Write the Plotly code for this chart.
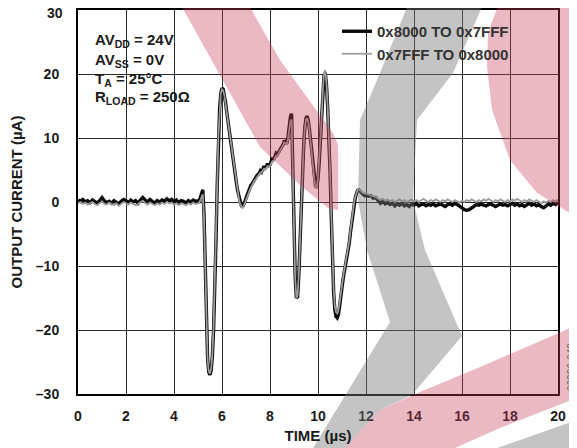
import plotly.graph_objects as go

# ---------------- data ----------------
# sampling instants (µs): 0.1 µs grid before/after the transient, 0.05 µs grid during it
TIME_PRE = [round(i * 0.1, 2) for i in range(50)]          # 0.0 .. 4.9
TIME_MID = [round(5 + i * 0.05, 2) for i in range(140)]    # 5.00 .. 11.95
TIME_POST = [round(12 + i * 0.1, 2) for i in range(81)]    # 12.0 .. 20.0
TIME_US = TIME_PRE + TIME_MID + TIME_POST

# 0x8000 TO 0x7FFF (black)
OUT_A_PRE = [0.3, 0.1, 0.4, 0.0, 0.2, -0.1, 0.3, 0.1, -0.2, 0.2,
             0.7, 0.2, -0.1, 0.1, -0.2, 0.2, 0.0, -0.3, 0.1, 0.4,
             0.2, -0.1, 0.3, 0.0, 0.2, -0.2, 0.3, 0.7, 0.3, 0.0,
             0.4, 0.1, -0.2, 0.2, 0.0, 0.3, 0.1, 0.5, 0.2, 0.4,
             0.0, 0.3, -0.1, 0.2, 0.1, -0.2, 0.2, 0.0, 0.3, 0.1]
OUT_A_MID = [0.2, 0.1, 0.6, 1.4, 1.9, -2.0, -11.0, -19.5, -24.5, -26.6,
             -27.0, -26.3, -24.0, -19.8, -14.0, -6.0, 2.5, 10.0, 14.5, 17.0,
             17.8, 17.6, 16.8, 15.5, 14.0, 12.5, 11.2, 10.0, 8.6, 7.2,
             5.8, 4.4, 3.0, 1.8, 0.8, 0.0, -0.5, -0.8, -0.5, 0.0,
             0.6, 1.2, 1.7, 2.1, 2.6, 2.8, 3.2, 3.5, 3.7, 4.1,
             4.3, 4.5, 4.9, 4.7, 5.1, 5.6, 5.3, 5.5, 6.0, 5.7,
             5.8, 6.3, 6.9, 6.6, 7.0, 7.6, 7.4, 7.7, 8.1, 8.3,
             8.5, 9.0, 9.6, 9.3, 9.1, 10.2, 12.0, 13.3, 13.8, 4.0,
             -6.0, -11.8, -15.0, -14.8, -11.5, -6.0, -1.0, 4.0, 8.5, 11.6,
             13.1, 13.4, 12.6, 11.1, 9.1, 7.1, 5.1, 3.5, 2.5, 2.3,
             3.6, 6.2, 9.2, 12.8, 17.0, 19.8, 20.2, 18.5, 15.0, 11.0,
             5.0, -2.0, -9.0, -14.0, -16.8, -17.9, -18.1, -17.6, -16.3, -14.6,
             -13.1, -11.9, -10.8, -9.8, -8.9, -8.0, -6.5, -4.8, -3.2, -1.8,
             -0.5, 0.6, 1.3, 1.8, 1.9, 1.6, 1.5, 1.3, 1.2, 1.0]
OUT_A_POST = [1.1, 0.9, 1.0, 0.6, 0.7, 0.2, -0.2, 0.1, -0.3, -0.1,
              -0.4, -0.2, -0.6, -0.3, -0.5, -0.2, -0.6, -0.4, -0.7, -0.3,
              -0.5, -0.2, -0.6, -0.4, -0.3, -0.6, -0.4, -0.5, -0.3, -0.6,
              -0.4, -0.3, -0.5, -0.7, -0.4, -0.3, -0.5, -0.2, -0.4, -0.6,
              -0.9, -1.2, -1.3, -1.2, -0.9, -0.6, -0.4, -0.5, -0.3, -0.5,
              -0.6, -0.4, -0.3, -0.5, -0.7, -0.5, -0.3, -0.5, -0.4, -0.6,
              -0.4, -0.2, -0.5, -0.3, -0.6, -0.4, -0.7, -0.4, -0.2, -0.5,
              -0.3, -0.6, -0.4, -0.7, -0.9, -0.6, -0.3, -0.5, -0.2, -0.4,
              -0.1]

# 0x7FFF TO 0x8000 (grey)
OUT_B_PRE = [-0.2, 0.0, -0.3, -0.1, -0.4, -0.2, 0.0, -0.3, -0.5, -0.2,
             0.1, -0.3, -0.4, -0.1, -0.3, -0.5, -0.2, -0.6, -0.3, 0.0,
             -0.2, -0.4, -0.1, -0.3, -0.5, -0.3, 0.0, 0.2, -0.2, -0.4,
             -0.1, -0.3, -0.5, -0.2, -0.4, -0.1, -0.3, 0.0, -0.2, -0.1,
             -0.4, -0.2, -0.5, -0.2, -0.3, -0.5, -0.2, -0.4, -0.1, -0.3]
OUT_B_MID = [-0.2, -0.1, 0.3, 0.9, 1.2, -2.5, -11.5, -19.8, -24.6, -26.5,
             -26.8, -26.0, -23.6, -19.3, -13.2, -5.8, 2.6, 10.2, 14.6, 17.0,
             17.6, 17.4, 16.6, 15.3, 13.8, 12.3, 11.0, 9.8, 8.4, 7.0,
             5.6, 4.2, 2.8, 1.6, 0.6, -0.2, -0.7, -1.0, -0.7, -0.2,
             0.4, 1.0, 1.5, 2.0, 2.3, 2.6, 3.0, 3.3, 3.5, 3.9,
             4.1, 4.3, 4.6, 4.6, 4.9, 5.2, 5.1, 5.3, 5.6, 5.5,
             5.6, 6.0, 6.4, 6.4, 6.7, 7.2, 7.2, 7.5, 7.9, 8.1,
             8.4, 8.9, 9.3, 9.2, 9.0, 9.8, 11.3, 12.6, 12.9, 3.5,
             -6.5, -12.0, -15.0, -14.6, -11.3, -5.8, -0.8, 4.2, 8.6, 11.5,
             12.9, 13.1, 12.4, 11.0, 9.0, 7.0, 5.0, 3.4, 2.3, 2.2,
             3.8, 6.5, 9.5, 13.0, 17.3, 20.2, 20.6, 18.7, 15.2, 11.2,
             5.2, -1.5, -8.5, -13.5, -16.2, -17.2, -17.4, -17.0, -15.8, -14.2,
             -12.8, -11.6, -10.5, -9.5, -8.6, -7.7, -6.2, -4.5, -2.9, -1.5,
             -0.2, 0.8, 1.5, 1.9, 2.0, 1.8, 1.7, 1.5, 1.4, 1.3]
OUT_B_POST = [1.3, 1.2, 1.0, 0.9, 0.8, 0.5, 0.3, 0.5, 0.2, 0.4,
              0.1, 0.3, 0.0, 0.2, 0.4, 0.1, 0.3, 0.0, 0.2, 0.4,
              0.1, 0.3, 0.0, 0.2, 0.5, 0.2, 0.0, 0.3, 0.1, 0.4,
              0.2, 0.0, 0.3, 0.1, 0.4, 0.2, 0.0, 0.3, 0.1, -0.1,
              0.2, 0.0, 0.3, 0.1, 0.4, 0.2, 0.0, 0.3, 0.1, 0.4,
              0.2, 0.5, 0.2, 0.0, 0.3, 0.1, 0.4, 0.2, 0.0, 0.3,
              0.1, 0.4, 0.2, 0.5, 0.2, 0.0, 0.3, 0.1, 0.4, 0.2,
              0.0, 0.3, 0.1, -0.2, 0.1, -0.1, 0.2, 0.0, 0.3, 0.1,
              0.4]

OUT_A = OUT_A_PRE + OUT_A_MID + OUT_A_POST
OUT_B = OUT_B_PRE + OUT_B_MID + OUT_B_POST

SERIES_NAMES = ["0x8000 TO 0x7FFF", "0x7FFF TO 0x8000"]
X_TICKS = [0, 2, 4, 6, 8, 10, 12, 14, 16, 18, 20]
Y_TICKS = [-30, -20, -10, 0, 10, 20, 30]
# the top label ("30") sits at the very edge of the page, so it is drawn as an
# annotation nudged a few pixels down instead of as a regular tick label
Y_TICK_TEXT = ["\u201330", "\u201320", "\u201310", "0", "10", "20", ""]
Y_TOP_LABEL = "30"
CONDITIONS = ["AV<sub>DD</sub> = 24V", "AV<sub>SS</sub> = 0V",
              "T<sub>A</sub> = 25°C", "R<sub>LOAD</sub> = 250Ω"]

# ---------------- styling ----------------
# the page body adds an 8 px offset, so the figure is 8 px smaller and margins compensate
OFF = 8
W, H = 577 - OFF, 448 - OFF
PLOT_L, PLOT_R, PLOT_T, PLOT_B = 78, 558, 10, 394          # target plot box in window pixels
ML, MT = PLOT_L - OFF, PLOT_T - OFF
PW, PH = PLOT_R - PLOT_L, PLOT_B - PLOT_T
MR, MB = W - ML - PW, H - MT - PH
FONT = "Liberation Sans, Arial, Helvetica, sans-serif"
PINK = "rgba(200,60,90,0.36)"
GREY = "rgba(120,120,120,0.44)"


def pp(px, py):
    return f"{(px - PLOT_L) / PW:.4f},{(PLOT_B - py) / PH:.4f}"


def poly(points):
    return "M " + " L ".join(pp(x, y) for x, y in points) + " Z"


def px_x(px):
    return (px - PLOT_L) / PW


def px_y(py):
    return (PLOT_B - py) / PH


watermark = [
    (GREY, [(410, 0), (485, 0), (453, 73), (417, 120), (413, 200), (425, 250),
            (462, 336), (412, 395), (380, 410), (345, 448), (313, 448),
            (390, 322), (367, 250), (358, 200), (360, 120), (380, 73)]),
    (PINK, [(178, 0), (246, 0), (280, 60), (333, 133), (338, 145), (338, 210),
            (328, 208), (300, 185), (260, 147), (220, 75)]),
    (PINK, [(500, 0), (577, 0), (577, 215), (570, 213), (537, 193), (510, 160),
            (492, 110), (487, 67), (488, 33)]),
    (PINK, [(345, 448), (380, 410), (420, 392), (480, 367), (577, 325),
            (577, 398), (500, 428), (455, 448)]),
    (GREY, [(497, 448), (577, 420), (577, 448)]),
]

fig = go.Figure()
fig.add_trace(go.Scatter(x=TIME_US, y=OUT_A, mode="lines", name=SERIES_NAMES[0],
                         line=dict(color="#0a0a0a", width=3.4)))
fig.add_trace(go.Scatter(x=TIME_US, y=OUT_B, mode="lines", name=SERIES_NAMES[1],
                         line=dict(color="#9c9c9c", width=1.8)))

shapes = [
    # white patch behind the legend that hides the grid there (as in the reference)
    dict(type="rect", xref="paper", yref="paper",
         x0=px_x(342), x1=px_x(522), y0=px_y(58), y1=px_y(15),
         fillcolor="white", line=dict(width=0), layer="between"),
]
shapes += [dict(type="path", xref="paper", yref="paper", path=poly(pts),
                fillcolor=col, line=dict(width=0), layer="above")
           for col, pts in watermark]

annotations = []
cond_y = [40, 60, 79, 98]
for txt, py in zip(CONDITIONS, cond_y):
    annotations.append(dict(text=txt, xref="paper", yref="paper",
                            x=px_x(93), y=px_y(py),
                            xanchor="left", yanchor="middle", showarrow=False,
                            font=dict(family=FONT, size=15, color="#1a1a1a", weight="bold")))
annotations.append(dict(text="06996-049", xref="paper", yref="paper",
                        x=px_x(571), y=px_y(367), textangle=-90,
                        xanchor="center", yanchor="middle", showarrow=False,
                        font=dict(family=FONT, size=10, color="#5e5e5e")))
annotations.append(dict(text=Y_TOP_LABEL, xref="paper", yref="paper",
                        x=px_x(64), y=px_y(13), xanchor="right", yanchor="middle",
                        height=10, valign="middle", showarrow=False, borderpad=0,
                        font=dict(family=FONT, size=14, color="#1a1a1a", weight="bold")))

axis_common = dict(showgrid=True, gridcolor="#2a2a2a", gridwidth=1.4,
                   showline=True, linecolor="#000000", linewidth=2, mirror=True,
                   zeroline=False, ticks="", automargin=False, ticklabeloverflow="allow",
                   tickfont=dict(family=FONT, size=14, color="#1a1a1a", weight="bold"))

fig.update_layout(
    width=W, height=H,
    margin=dict(l=ML, r=MR, t=MT, b=MB, autoexpand=False),
    paper_bgcolor="white", plot_bgcolor="white",
    font=dict(family=FONT, size=14, color="#1a1a1a"),
    showlegend=True,
    legend=dict(x=px_x(337), y=px_y(15), xanchor="left", yanchor="top",
                bgcolor="rgba(0,0,0,0)", borderwidth=0, tracegroupgap=0,
                font=dict(family=FONT, size=15, color="#333333", weight="bold")),
    xaxis=dict(range=[0, 20], tickvals=X_TICKS, ticklabelstandoff=8,
               title=dict(text="TIME (µs)", standoff=8,
                          font=dict(family=FONT, size=15, color="#1a1a1a", weight="bold")),
               **axis_common),
    yaxis=dict(range=[-30, 30], tickvals=Y_TICKS, ticktext=Y_TICK_TEXT, ticklabelstandoff=14,
               title=dict(text="OUTPUT CURRENT (µA)", standoff=12,
                          font=dict(family=FONT, size=15, color="#1a1a1a", weight="bold")),
               **axis_common),
    shapes=shapes,
    annotations=annotations,
)

fig.write_html("out.html")
